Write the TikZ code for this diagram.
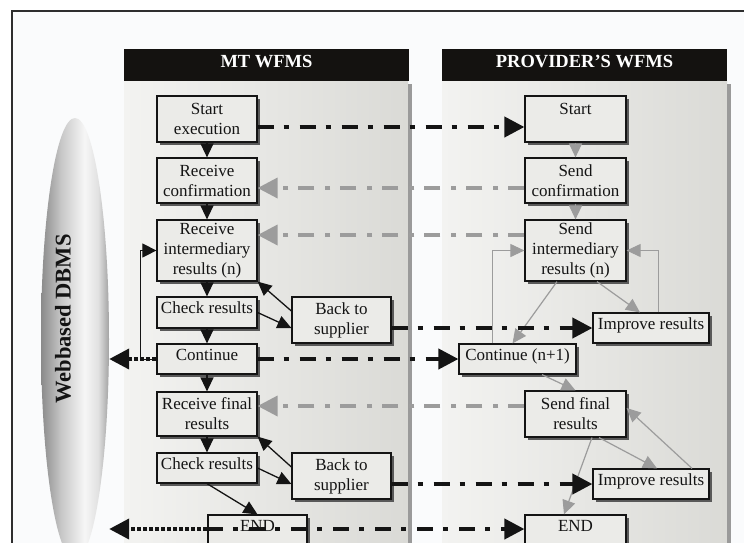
\documentclass[tikz,border=0pt]{standalone}
\usepackage{fontspec}
\setmainfont{Liberation Serif}
\usetikzlibrary{arrows.meta,shadows,shapes.geometric,calc}
\definecolor{boxfill}{HTML}{EBEBE8}
\definecolor{ink}{HTML}{141414}
\definecolor{arrgray}{HTML}{9C9C9C}
\definecolor{hdr}{HTML}{141210}
\definecolor{colL}{HTML}{F3F3F1}
\definecolor{colR}{HTML}{DADAD6}
\definecolor{colshadow}{HTML}{9A9A9A}
\definecolor{framebg}{HTML}{FAFBFC}
\definecolor{framecol}{HTML}{2E2E2E}
\definecolor{dbA}{HTML}{8A8A8A}
\definecolor{dbB}{HTML}{F6F6F6}
\definecolor{dbC}{HTML}{A2A2A2}
\pgfdeclarehorizontalshading{dbshade}{100bp}{color(0bp)=(dbA); color(25bp)=(dbA); color(40bp)=(dbC!55!dbB); color(57bp)=(dbB); color(67bp)=(dbB!75!dbC); color(75bp)=(dbC); color(100bp)=(dbC)}
\begin{document}
\begin{tikzpicture}[x=1pt,y=-1pt,
  box/.style={draw=ink, line width=1.2pt, fill=boxfill, align=center, inner sep=0pt,
    font=\fontsize{17}{20}\selectfont, text=ink,
    drop shadow={shadow xshift=2.5pt, shadow yshift=-2.5pt, fill=black!65, opacity=1}},
  one/.style={text height=11.6pt, text depth=9pt},
  hdrbox/.style={fill=hdr, text=white, minimum width=285pt, minimum height=32pt, inner sep=0pt,
    font=\fontsize{18.5}{22}\selectfont\bfseries, text height=12.2pt, text depth=8pt},
  blk/.style={draw=ink, line width=1.3pt, -{Triangle[length=14pt,width=13pt]}},
  gry/.style={draw=arrgray, line width=1.2pt, -{Triangle[length=14pt,width=13pt]}},
  msgb/.style={draw=ink, line width=4pt, dash pattern=on 16pt off 10pt on 5pt off 11pt,
    -{Triangle[length=20pt,width=20pt]}},
  msgg/.style={draw=arrgray, line width=3.5pt, dash pattern=on 16pt off 10pt on 5pt off 11pt,
    -{Triangle[length=20pt,width=20pt]}},
  dbarr/.style={draw=ink, line width=4pt, dash pattern=on 4pt off 2pt,
    -{Triangle[length=20pt,width=20pt]}},
  loopb/.style={draw=ink, line width=1pt, -{Triangle[length=14pt,width=14pt]}},
]
\useasboundingbox (0,0) rectangle (744,542);
\clip (0,0) rectangle (744,542);
\fill[white] (0,0) rectangle (744,542);
\filldraw[fill=framebg, draw=framecol, line width=1.3pt] (12,11) rectangle (770,570);

% columns
\shade[left color=colL, right color=colR] (124,81) rectangle (408,560);
\fill[colshadow] (408,84) rectangle (412,560);
\shade[left color=colL, right color=colR] (442,81) rectangle (727,560);
\fill[colshadow] (727,84) rectangle (731,560);
\node[hdrbox] (h1) at (266.5,65) {MT WFMS};
\node[hdrbox] (h2) at (584.5,65) {PROVIDER’S WFMS};

% database
\node[ellipse, minimum width=68pt, minimum height=442pt, inner sep=0pt, shade, shading=dbshade] (dbms) at (75,339) {};
\node[rotate=90, font=\fontsize{22.5}{26}\selectfont\bfseries, text=ink] (dbl) at (63,319) {Webbased DBMS};

% left column boxes
\node[box, minimum width=100pt, minimum height=46pt] (se) at (207,119) {Start\\execution};
\node[box, minimum width=100pt, minimum height=45pt] (rc) at (207,180.5) {Receive\\confirmation};
\node[box, minimum width=100pt, minimum height=61pt] (ri) at (207,250.5) {Receive\\intermediary\\results (n)};
\node[box, one, minimum width=100pt, minimum height=31pt] (cr1) at (207,312.5) {Check results};
\node[box, one, minimum width=100pt, minimum height=30pt] (co) at (207,359) {Continue};
\node[box, minimum width=100pt, minimum height=44pt] (rf) at (207,414) {Receive final\\results};
\node[box, one, minimum width=100pt, minimum height=30pt] (cr2) at (207,468) {Check results};
\node[box, one, minimum width=99pt, minimum height=30pt] (endL) at (257.5,530) {END};
\node[box, minimum width=99pt, minimum height=46pt] (bs1) at (341.5,320) {Back to\\supplier};
\node[box, minimum width=99pt, minimum height=46pt] (bs2) at (341.5,476) {Back to\\supplier};

% right column boxes
\node[box, minimum width=101pt, minimum height=46pt] (st) at (575.5,119) {Start\\~};
\node[box, minimum width=101pt, minimum height=45pt] (sc) at (575.5,180.5) {Send\\confirmation};
\node[box, minimum width=101pt, minimum height=61pt] (si) at (575.5,250.5) {Send\\intermediary\\results (n)};
\node[box, one, minimum width=116pt, minimum height=30pt] (ir1) at (651,328) {Improve results};
\node[box, one, minimum width=117pt, minimum height=30pt] (cn) at (517.5,359) {Continue (n+1)};
\node[box, minimum width=101pt, minimum height=46pt] (sf) at (575.5,414) {Send final\\results};
\node[box, one, minimum width=116pt, minimum height=30pt] (ir2) at (651,484) {Improve results};
\node[box, one, minimum width=101pt, minimum height=30pt] (endR) at (575.5,530) {END};

% left vertical flow
\draw[blk] (se) -- (rc);
\draw[blk] (rc) -- (ri);
\draw[blk] (ri) -- (cr1);
\draw[blk] (cr1) -- (co);
\draw[blk] (co) -- (rf);
\draw[blk] (rf) -- (cr2);
\draw[blk] (cr1.east) -- ([yshift=-8pt]bs1.west);
\draw[blk] ([yshift=9pt]bs1.west) -- (ri.south east);
\draw[blk] (cr2.east) -- ([yshift=-8pt]bs2.west);
\draw[blk] ([yshift=9pt]bs2.west) -- (rf.south east);
\draw[blk] (cr2.south) -- (endL.north);
\draw[loopb] (co.west) -- ++(-16,0) |- (ri.west);

% database arrows
\coordinate (endLw) at ([yshift=1pt]endL.west);
\draw[dbarr] (co.west) -- (dbms.east |- co.west);
\draw[dbarr] (endLw) -- (dbms.east |- endLw);

% right flow
\draw[gry] (st) -- (sc);
\draw[gry] (sc) -- (si);
\draw[gry] ([xshift=21.5pt]si.south) -- ([xshift=-11pt]ir1.north);
\draw[gry] ([xshift=-18.5pt]si.south) -- ([xshift=-5pt]cn.north);
\draw[gry, line width=1pt] ([xshift=7pt]ir1.north) |- (si.east);
\draw[gry, line width=1pt] ([xshift=-25.5pt]cn.north) |- (si.west);
\draw[gry] ([xshift=24.5pt]cn.south) -- (sf.north);
\draw[gry] ([xshift=23.5pt]sf.south) -- ([xshift=6pt]ir2.north);
\draw[gry] ([xshift=41pt]ir2.north) -- ([yshift=6pt]sf.east);
\draw[gry] ([xshift=16.5pt]sf.south) -- ([xshift=-11.5pt]endR.north);

% messages between columns
\draw[msgb] ([yshift=-8pt]se.east) -- ([yshift=-8pt]st.west);
\draw[msgg] ([yshift=-7.5pt]sc.west) -- ([yshift=-7.5pt]rc.east);
\draw[msgg] ([yshift=15.5pt]si.west) -- ([yshift=15.5pt]ri.east);
\draw[msgb] (bs1.east |- ir1.west) -- (ir1.west);
\draw[msgb] (co) -- (cn);
\draw[msgg] ([yshift=8pt]sf.west) -- ([yshift=8pt]rf.east);
\draw[msgb] (bs2.east |- ir2.west) -- (ir2.west);
\draw[msgb] (endLw) -- (endLw -| endR.west);
\end{tikzpicture}
\end{document}
